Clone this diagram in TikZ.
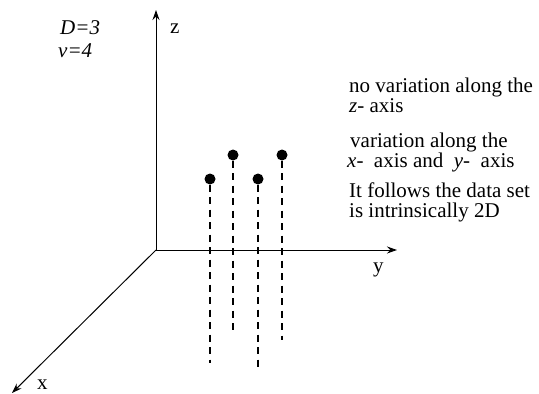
\documentclass[tikz,border=0pt]{standalone}
\usepackage{fontspec}
\setmainfont{Liberation Serif}
\usetikzlibrary{positioning, arrows.meta}

\begin{document}
\begin{tikzpicture}[
    x=1pt, y=-1pt,
    >={Stealth[length=10pt, width=7pt]},
    font=\fontsize{21}{20}\selectfont,
    axis/.style={line width=1pt, ->},
    lbl/.style={anchor=base west, inner sep=0pt},
    param/.style={lbl, font=\fontsize{21}{20}\selectfont\itshape},
    note/.style={anchor=base west, inner sep=0pt, align=left},
    dot/.style={circle, fill=black, inner sep=0pt, minimum size=11pt},
    drop/.style={line width=2.5pt, dash pattern=on 7pt off 5.5pt},
]

\useasboundingbox (0,0) rectangle (539,394);

% Axes
\coordinate (O) at (156,250);
\coordinate (Z) at (156,10);
\coordinate (Y) at (397,250);
\coordinate (X) at (12,393);
\draw[axis] (O) -- (Z);
\draw[axis] (O) -- (Y);
\draw[axis] (O) -- (X);
\node[lbl] (zlab) at (170,33) {z};
\node[lbl] (ylab) at (373,272) {y};
\node[lbl] (xlab) at (37,389) {x};

% Parameters
\node[param] (dim) at (60,34) {D=3};
\node[param] (num) at (58,57) {v=4};

% Data points and their drop lines
\node[dot] (p1) at (210,179) {};
\node[dot] (p2) at (233,155) {};
\node[dot] (p3) at (258,179) {};
\node[dot] (p4) at (282,155) {};
\coordinate (b1) at (210,363);
\coordinate (b2) at (233,333);
\coordinate (b3) at (258,370);
\coordinate (b4) at (282,340);
\draw[drop] (p1) -- (b1);
\draw[drop] (p2) -- (b2);
\draw[drop] (p3) -- (b3);
\draw[drop] (p4) -- (b4);

% Notes (base anchor sits on the last line)
\node[note] (n1) at (349,112) {no variation along the\\\textit{z}- axis};
\node[note] (n2) at (347,167) {\hspace*{3pt}variation along the\\\textit{x}-\ \ axis and\ \ \textit{y}-\ \ axis};
\node[note] (n3) at (349,217) {It follows the data set\\is intrinsically 2D};

\end{tikzpicture}
\end{document}
